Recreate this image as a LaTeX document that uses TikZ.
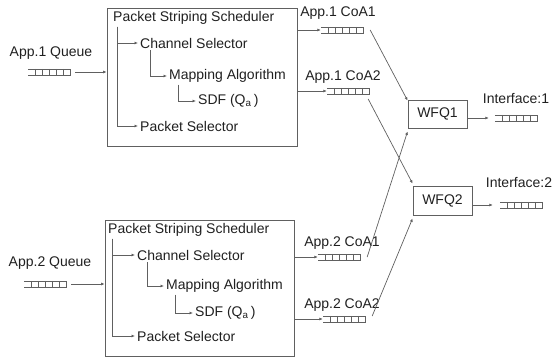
\documentclass[tikz,border=0pt]{standalone}
\usepackage{fontspec}
\setmainfont{Liberation Sans}
\usetikzlibrary{arrows.meta,positioning}

\definecolor{linegray}{HTML}{606060}
\definecolor{textgray}{HTML}{202020}

\tikzset{
  txt/.style={anchor=west, inner sep=2pt, text=textgray, font=\fontsize{14}{16}\selectfont},
  lbl/.style={inner sep=1pt, text=textgray, font=\fontsize{14}{16}\selectfont},
  box/.style={draw=linegray, line width=0.8pt, inner sep=0pt},
  arr/.style={draw=linegray, line width=0.7pt, -{Latex[length=3.5pt,width=3pt]}},
  ln/.style={draw=linegray, line width=0.7pt},
  qnode/.style={minimum width=42pt, minimum height=6pt, inner sep=0pt},
}

% queue icon: name, position
\newcommand{\queueicon}[2]{%
  \node[qnode] (#1) at (#2) {};
  \draw[ln, line width=0.5pt] (#1.north west) -- (#1.north east) -- (#1.south east) -- (#1.south west);
  \foreach \k in {1,...,5} {
    \draw[ln, line width=0.5pt] ([xshift=\k*7pt]#1.north west) -- ([xshift=\k*7pt]#1.south west);
  }
}

\begin{document}
\begin{tikzpicture}[x=1pt, y=-1pt]
    \useasboundingbox (0,0) rectangle (555,358);

    % scheduler of application 1
    \node[box, minimum width=190pt, minimum height=138pt] (s1) at (202,77) {};
    \node[txt] (t1) at (111,18) {Packet Striping Scheduler};
    \node[txt] (c1) at (138,43) {Channel Selector};
    \node[txt] (m1) at (167,76) {Mapping Algorithm};
    \node[txt] (d1) at (196,101) {SDF (Q\textsubscript{a}\,)};
    \node[txt] (p1) at (138,126) {Packet Selector};
    \draw[arr] ([xshift=6pt]t1.south west) |- (c1.west);
    \draw[arr] ([xshift=6pt]t1.south west) |- (p1.west);
    \draw[arr] ([xshift=12pt]c1.south west) |- (m1.west);
    \draw[arr] ([xshift=11pt]m1.south west) |- (d1.west);

    % scheduler of application 2
    \node[box, minimum width=189pt, minimum height=136pt] (s2) at (199.5,288) {};
    \node[txt] (t2) at (106,230) {Packet Striping Scheduler};
    \node[txt] (c2) at (135,255) {Channel Selector};
    \node[txt] (m2) at (164,286) {Mapping Algorithm};
    \node[txt] (d2) at (193,313) {SDF (Q\textsubscript{a}\,)};
    \node[txt] (p2) at (135,336) {Packet Selector};
    \draw[arr] ([xshift=6pt]t2.south west) |- (c2.west);
    \draw[arr] ([xshift=6pt]t2.south west) |- (p2.west);
    \draw[arr] ([xshift=12pt]c2.south west) |- (m2.west);
    \draw[arr] ([xshift=11pt]m2.south west) |- (d2.west);

    % application queues
    \queueicon{qa1}{49,72}
    \queueicon{qa2}{45,284}
    \node[lbl] (la1) at (51,53) {App.1 Queue};
    \node[lbl] (la2) at (50,263) {App.2 Queue};
    \draw[arr] ([xshift=5pt]qa1.east) -- (qa1.east -| s1.west);
    \draw[arr] ([xshift=5pt]qa2.east) -- (qa2.east -| s2.west);

    % care-of-address queues
    \queueicon{q11}{342,30}
    \queueicon{q12}{348,91}
    \queueicon{q21}{339,257}
    \queueicon{q22}{344,319}
    \node[lbl] (l11) at (338,13) {App.1 CoA1};
    \node[lbl] (l12) at (343,77) {App.1 CoA2};
    \node[lbl] (l21) at (342,243) {App.2 CoA1};
    \node[lbl] (l22) at (342,305) {App.2 CoA2};
    \draw[arr] (q11.west -| s1.east) -- (q11.west);
    \draw[arr] (q12.west -| s1.east) -- (q12.west);
    \draw[arr] (q21.west -| s2.east) -- (q21.west);
    \draw[arr] (q22.west -| s2.east) -- (q22.west);

    % WFQ schedulers
    \node[box, minimum width=59pt, minimum height=28pt, lbl] (w1) at (437.5,114) {WFQ1};
    \node[box, minimum width=59pt, minimum height=29pt, lbl] (w2) at (442.5,200.5) {WFQ2};
    \draw[arr] ([xshift=7pt]q11.east) -- ([yshift=-1pt]w1.north west);
    \draw[arr] ([xshift=7pt]q21.east) -- ([yshift=-3pt]w1.south west);
    \draw[arr] ([xshift=-1pt,yshift=-8pt]q12.east) -- ([yshift=2pt]w2.north west);
    \draw[arr] ([xshift=7pt,yshift=3pt]q22.east) -- ([yshift=-3pt]w2.south west);

    % interfaces
    \queueicon{qi1}{516,118}
    \queueicon{qi2}{521,205}
    \node[lbl] (li1) at (516,99) {Interface:1};
    \node[lbl] (li2) at (519,183) {Interface:2};
    \draw[arr] (w1.east |- qi1.west) -- ([xshift=-6pt]qi1.west);
    \draw[arr] (w2.east |- qi2.west) -- ([xshift=-7pt]qi2.west);
\end{tikzpicture}
\end{document}
